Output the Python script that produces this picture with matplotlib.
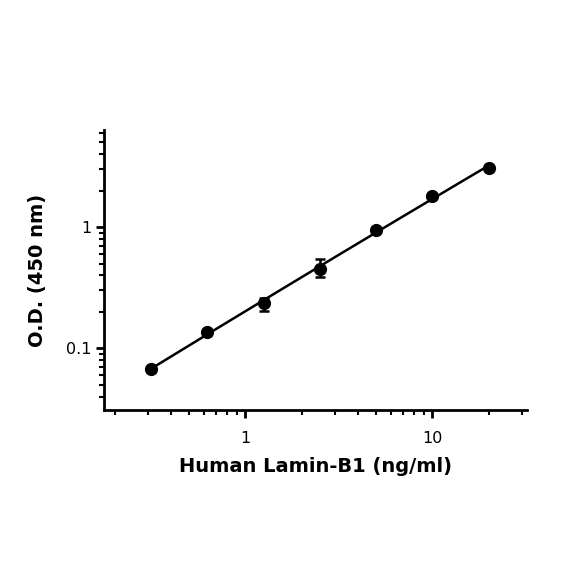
import numpy as np
import matplotlib
matplotlib.use("Agg")
import matplotlib.pyplot as plt
from matplotlib.ticker import LogLocator, FixedLocator, NullFormatter

# standard curve data
conc = [0.3125, 0.625, 1.25, 2.5, 5, 10, 20]
od = [0.0675, 0.137, 0.236, 0.453, 0.95, 1.79, 3.10]
od_err_lo = [0.0, 0.0, 0.031, 0.066, 0.0, 0.0, 0.0]
od_err_hi = [0.0, 0.0, 0.023, 0.092, 0.0, 0.0, 0.0]

x_label = "Human Lamin-B1 (ng/ml)"
y_label = "O.D. (450 nm)"

def main():
    fig = plt.figure(figsize=(5.84, 5.84), dpi=100)
    ax = fig.add_axes([0.178, 0.298, 0.724, 0.479])

    # smooth fit in log-log space
    lx = np.log10(conc)
    ly = np.log10(od)
    p = np.polyfit(lx, ly, 2)
    xs = np.linspace(lx[0], lx[-1], 200)
    ax.plot(10**xs, 10**np.polyval(p, xs), color="black", lw=1.8, zorder=2)

    ax.errorbar(conc, od, yerr=[od_err_lo, od_err_hi], fmt="o", color="black",
                ms=8.5, ecolor="black", elinewidth=1.8, capsize=3.5, capthick=1.8, zorder=3)

    ax.set_xscale("log")
    ax.set_yscale("log")
    ax.set_xlim(0.175, 32)
    ax.set_ylim(0.031, 6.3)

    ax.xaxis.set_major_locator(FixedLocator([1, 10]))
    ax.xaxis.set_minor_locator(LogLocator(base=10, subs=np.arange(2, 10)))
    ax.xaxis.set_minor_formatter(NullFormatter())
    ax.set_xticklabels(["1", "10"])
    ax.yaxis.set_major_locator(FixedLocator([0.1, 1]))
    ax.yaxis.set_minor_locator(LogLocator(base=10, subs=np.arange(2, 10)))
    ax.yaxis.set_minor_formatter(NullFormatter())
    ax.set_yticklabels(["0.1", "1"])

    for s in ["top", "right"]:
        ax.spines[s].set_visible(False)
    for s in ["left", "bottom"]:
        ax.spines[s].set_linewidth(2)

    ax.tick_params(which="major", length=6, width=2, labelsize=11.5)
    ax.tick_params(axis="x", which="major", pad=9)
    ax.tick_params(axis="y", which="major", pad=3)
    ax.tick_params(which="minor", length=3.5, width=1.5)

    ax.set_xlabel(x_label, fontsize=14, fontweight="bold", labelpad=8)
    ax.set_ylabel(y_label, fontsize=14, fontweight="bold", labelpad=14)

    fig.savefig("out.png", dpi=100)

main()
